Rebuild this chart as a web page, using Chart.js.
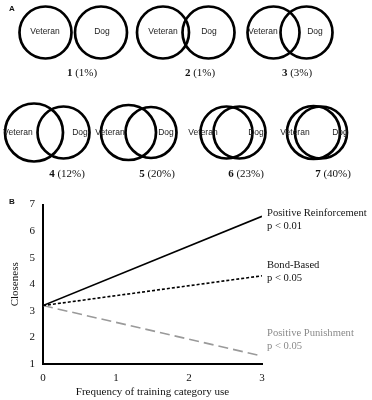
<!DOCTYPE html>
<html>
<head>
<meta charset="utf-8">
<script src="https://cdn.jsdelivr.net/npm/chart.js@4/dist/chart.umd.min.js"></script>
<style>
  html, body { margin: 0; padding: 0; background: #fff; }
  #wrap { position: relative; width: 372px; height: 400px; }
  #cA { position: absolute; left: 0; top: 0; }
  #cB { position: absolute; left: 0; top: 190px; }
</style>
</head>
<body>
<div id="wrap">
  <canvas id="cA" width="372" height="190"></canvas>
  <canvas id="cB" width="372" height="210"></canvas>
</div>
<script>
// ---------- Panel A data ----------
const pairNumbers = ['1', '2', '3', '4', '5', '6', '7'];
const pairPercents = ['1%', '1%', '3%', '12%', '20%', '23%', '40%'];
const veteranCenterX = [45.5, 163, 273.5, 34, 128.5, 226.5, 313.5];
const dogCenterX = [101, 208.5, 306.5, 63.5, 151, 239.5, 321];
const rowCenterY = [32.5, 32.5, 32.5, 132.5, 132.5, 132.5, 132.5];
const veteranRadius = [26, 26, 26, 29, 27.5, 26, 26.5];
const dogRadius = [26, 26, 26, 26, 25.5, 26, 26];

// ---------- Panel B data ----------
const frequencyX = [0, 3];
const xTickValues = [0, 1, 2, 3];
const yTickValues = [1, 2, 3, 4, 5, 6, 7];
const reinforcement = [3.2, 6.56];
const bondBased = [3.2, 4.32];
const punishment = [3.2, 1.3];
const seriesNames = ['Positive Reinforcement', 'Bond-Based', 'Positive Punishment'];
const seriesP = ['p < 0.01', 'p < 0.05', 'p < 0.05'];

// ---------- Panel A layout (text placement) ----------
const layoutA = {
  veteranText: [[45, 32], [163, 32], [263, 32], [18, 133], [110, 133], [203, 133], [295, 133]],
  dogText: [[102, 32], [209, 32], [315, 32], [80, 133], [166, 133], [256, 133], [340, 133]],
  captions: [[82, 73], [200, 73], [297, 73], [67, 174], [157, 174], [246, 174], [333, 174]]
};

const panelAText = {
  id: 'panelAText',
  afterDatasetsDraw(chart) {
    const ctx = chart.ctx;
    ctx.save();
    ctx.fillStyle = '#111';
    ctx.font = 'bold 8px "Liberation Sans", Arial, sans-serif';
    ctx.textAlign = 'left';
    ctx.textBaseline = 'middle';
    ctx.fillText('A', 9, 9);
    ctx.font = '8.5px "Liberation Sans", Arial, sans-serif';
    ctx.textAlign = 'center';
    ctx.fillStyle = '#222';
    layoutA.veteranText.forEach(p => ctx.fillText('Veteran', p[0], p[1]));
    layoutA.dogText.forEach(p => ctx.fillText('Dog', p[0], p[1]));
    ctx.fillStyle = '#111';
    pairNumbers.forEach((n, i) => {
      const [cx, cy] = layoutA.captions[i];
      ctx.font = 'bold 11px "Liberation Serif", "Times New Roman", serif';
      const w1 = ctx.measureText(n).width;
      ctx.font = '11px "Liberation Serif", "Times New Roman", serif';
      const rest = ' (' + pairPercents[i] + ')';
      const w2 = ctx.measureText(rest).width;
      const x0 = cx - (w1 + w2) / 2;
      ctx.textAlign = 'left';
      ctx.font = 'bold 11px "Liberation Serif", "Times New Roman", serif';
      ctx.fillText(n, x0, cy);
      ctx.font = '11px "Liberation Serif", "Times New Roman", serif';
      ctx.fillText(rest, x0 + w1, cy);
    });
    ctx.restore();
  }
};

new Chart(document.getElementById('cA'), {
  type: 'bubble',
  data: {
    datasets: [
      {
        label: 'Veteran',
        data: pairNumbers.map((_, i) => ({ x: veteranCenterX[i], y: rowCenterY[i], r: veteranRadius[i] })),
        borderColor: '#000', backgroundColor: 'rgba(0,0,0,0)', borderWidth: 2.7, clip: false
      },
      {
        label: 'Dog',
        data: pairNumbers.map((_, i) => ({ x: dogCenterX[i], y: rowCenterY[i], r: dogRadius[i] })),
        borderColor: '#000', backgroundColor: 'rgba(0,0,0,0)', borderWidth: 2.7, clip: false
      }
    ]
  },
  options: {
    responsive: false, animation: false, events: [],
    layout: { padding: 0, autoPadding: false },
    plugins: { legend: { display: false }, tooltip: { enabled: false } },
    scales: {
      x: { type: 'linear', display: false, min: 0, max: 372 },
      y: { type: 'linear', display: false, min: 0, max: 190, reverse: true }
    }
  },
  plugins: [panelAText]
});

// ---------- Panel B ----------
const serif = '"Liberation Serif", "Times New Roman", serif';
const annoCfg = { dx: 5, dy: [-3, -11, -23], lineGap: 13, colors: ['#111', '#111', '#8a8a8a'] };

const panelBText = {
  id: 'panelBText',
  afterDatasetsDraw(chart) {
    const ctx = chart.ctx;
    const xs = chart.scales.x, ys = chart.scales.y;
    ctx.save();
    ctx.fillStyle = '#111';
    ctx.font = 'bold 8px "Liberation Sans", Arial, sans-serif';
    ctx.textAlign = 'left';
    ctx.textBaseline = 'middle';
    ctx.fillText('B', 9, 12);
    ctx.font = '10.6px ' + serif;
    chart.data.datasets.forEach((ds, i) => {
      const last = ds.data[ds.data.length - 1];
      const x = xs.getPixelForValue(last.x) + annoCfg.dx;
      const y = ys.getPixelForValue(last.y) + annoCfg.dy[i];
      ctx.fillStyle = annoCfg.colors[i];
      ctx.fillText(seriesNames[i], x, y);
      ctx.fillText(seriesP[i], x, y + annoCfg.lineGap);
    });
    ctx.restore();
  }
};

const toPts = arr => frequencyX.map((x, i) => ({ x, y: arr[i] }));

new Chart(document.getElementById('cB'), {
  type: 'line',
  data: {
    datasets: [
      { label: seriesNames[0], data: toPts(reinforcement), borderColor: '#000', borderWidth: 1.6, pointRadius: 0, fill: false },
      { label: seriesNames[1], data: toPts(bondBased), borderColor: '#000', borderWidth: 1.6, borderDash: [3, 2], pointRadius: 0, fill: false },
      { label: seriesNames[2], data: toPts(punishment), borderColor: '#9a9a9a', borderWidth: 1.6, borderDash: [10, 5], pointRadius: 0, fill: false }
    ]
  },
  options: {
    responsive: false, animation: false, events: [],
    layout: { padding: { top: 12, right: 110, bottom: 0, left: 0 } },
    plugins: { legend: { display: false }, tooltip: { enabled: false } },
    scales: {
      x: {
        type: 'linear', min: 0, max: 3,
        afterBuildTicks: s => { s.ticks = xTickValues.map(v => ({ value: v })); },
        afterFit: s => { s.height = 36; },
        grid: { display: false, drawTicks: false },
        border: { display: true, color: '#000', width: 2 },
        ticks: { color: '#111', padding: 8, font: { family: serif, size: 11 } },
        title: { display: true, text: 'Frequency of training category use', color: '#111', padding: { top: 0, bottom: 1.5 }, font: { family: serif, size: 11 } }
      },
      y: {
        type: 'linear', min: 1, max: 7,
        afterBuildTicks: s => { s.ticks = yTickValues.map(v => ({ value: v })); },
        afterFit: s => { s.width = 43; },
        grid: { display: false, drawTicks: false },
        border: { display: true, color: '#000', width: 2 },
        ticks: { color: '#111', padding: 8, font: { family: serif, size: 11 } },
        title: { display: true, text: 'Closeness', color: '#111', padding: { top: 8.5, bottom: 0 }, font: { family: serif, size: 11 } }
      }
    }
  },
  plugins: [panelBText]
});
</script>
</body>
</html>
